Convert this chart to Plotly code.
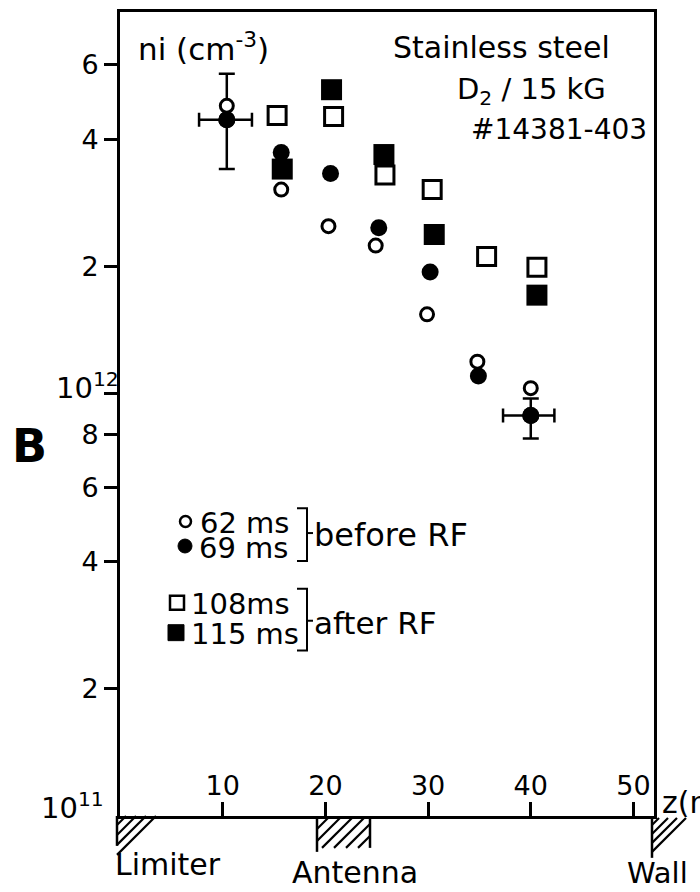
import plotly.graph_objects as go

# ---- measured ion density profiles (z in mm, ni in cm^-3) ----
z_62 = [10.4, 15.7, 20.3, 24.9, 29.9, 34.8, 40.0]
ni_62 = [4.8e12, 3.04e12, 2.49e12, 2.24e12, 1.54e12, 1.19e12, 1.03e12]

z_69 = [10.4, 15.7, 20.5, 25.2, 30.2, 34.9, 40.0]
ni_69 = [4.45e12, 3.72e12, 3.32e12, 2.47e12, 1.94e12, 1.10e12, 8.87e11]

z_108 = [15.3, 20.8, 25.8, 30.4, 35.7, 40.6]
ni_108 = [4.55e12, 4.53e12, 3.29e12, 3.04e12, 2.11e12, 1.99e12]

z_115 = [15.8, 20.6, 25.7, 30.6, 40.6]
ni_115 = [3.40e12, 5.24e12, 3.68e12, 2.38e12, 1.71e12]

# error bars on two of the 69 ms points
err_idx = [0, 6]
err_y_plus = [1.27e12, 0.86e11]
err_y_minus = [1.05e12, 1.04e11]
err_z_plus = [2.45, 2.3]
err_z_minus = [2.7, 2.7]

x_ticks = [10, 20, 30, 40, 50]
y_ticks = [1e11, 2e11, 4e11, 6e11, 8e11, 1e12, 2e12, 4e12, 6e12]
y_ticktext = ["", "2", "4", "6", "8", "", "2", "4", "6"]

Z_MAX = 52
LOG_RANGE = [11, 12.9033]

FONT = "DejaVu Sans"
INK = "black"

# plot box in pixels (for placing decorations in paper coordinates)
L, R, T, B = 120, 654, 9, 816


def px(X):
    return (X - L) / (R - L)


def py(Y):
    return (B - Y) / (B - T)


fig = go.Figure()

# error bars (drawn first, beneath the markers)
fig.add_trace(go.Scatter(
    x=[z_69[i] for i in err_idx], y=[ni_69[i] for i in err_idx],
    mode="markers", marker=dict(size=17, color=INK),
    error_y=dict(type="data", symmetric=False, array=err_y_plus,
                 arrayminus=err_y_minus, thickness=2.5, width=8, color=INK),
    error_x=dict(type="data", symmetric=False, array=err_z_plus,
                 arrayminus=err_z_minus, thickness=2.5, width=7, color=INK),
    showlegend=False, hoverinfo="skip"))

fig.add_trace(go.Scatter(
    x=z_115, y=ni_115, mode="markers", name="115 ms",
    marker=dict(symbol="square", size=21, color=INK, line=dict(width=0))))
fig.add_trace(go.Scatter(
    x=z_69, y=ni_69, mode="markers", name="69 ms",
    marker=dict(symbol="circle", size=17, color=INK, line=dict(width=0))))
fig.add_trace(go.Scatter(
    x=z_108, y=ni_108, mode="markers", name="108 ms",
    marker=dict(symbol="square", size=18, color="white",
                line=dict(width=3, color=INK))))
fig.add_trace(go.Scatter(
    x=z_62, y=ni_62, mode="markers", name="62 ms",
    marker=dict(symbol="circle", size=13, color="white",
                line=dict(width=3, color=INK))))

shapes = []
annotations = []


def text(s, X, Y, size, xanchor="left", bold=False):
    annotations.append(dict(
        text=f"<b>{s}</b>" if bold else s, x=px(X), y=py(Y),
        xref="paper", yref="paper", xanchor=xanchor, yanchor="middle",
        showarrow=False, font=dict(family=FONT, size=size, color=INK)))


def line_path(points, width=2.5):
    d = "M " + " L ".join(f"{px(a):.5f},{py(b):.5f}" for a, b in points)
    shapes.append(dict(type="path", path=d, xref="paper", yref="paper",
                       line=dict(color=INK, width=width)))


def hatch(poly, cs, width=2.2):
    # "/" hatch lines X + Y = c clipped to a convex polygon
    for c in cs:
        pts = []
        n = len(poly)
        for i in range(n):
            (x1, y1), (x2, y2) = poly[i], poly[(i + 1) % n]
            f1, f2 = x1 + y1 - c, x2 + y2 - c
            if f1 == f2:
                continue
            t = f1 / (f1 - f2)
            if 0 <= t <= 1:
                pts.append((x1 + t * (x2 - x1), y1 + t * (y2 - y1)))
        if len(pts) >= 2:
            pts.sort()
            line_path([pts[0], pts[-1]], width)


# limiter
line_path([(117, 816), (117, 846)])
hatch([(117, 816), (157, 816), (117, 856)], [972, 962, 952, 942])
# antenna
line_path([(317, 816), (317, 852)])
line_path([(370, 816), (370, 848)])
hatch([(317, 818), (370, 818), (370, 848), (317, 848)],
      [1146, 1158, 1170, 1182, 1194, 1206])
# wall
line_path([(652, 816), (652, 858)])
hatch([(652, 818), (687, 818), (652, 856)], [1504, 1495, 1486, 1477])

# legend glyphs
shapes.append(dict(type="circle", xref="paper", yref="paper",
                   x0=px(180), x1=px(191), y0=py(526), y1=py(515),
                   fillcolor="white", line=dict(color=INK, width=2.5)))
shapes.append(dict(type="circle", xref="paper", yref="paper",
                   x0=px(178), x1=px(192), y0=py(552), y1=py(538),
                   fillcolor=INK, line=dict(color=INK, width=1)))
shapes.append(dict(type="rect", xref="paper", yref="paper",
                   x0=px(170), x1=px(184), y0=py(609), y1=py(595),
                   fillcolor="white", line=dict(color=INK, width=2.5)))
shapes.append(dict(type="rect", xref="paper", yref="paper",
                   x0=px(168), x1=px(184), y0=py(640), y1=py(624),
                   fillcolor=INK, line=dict(color=INK, width=1)))
# brackets
line_path([(297, 507), (307, 507), (307, 560), (297, 560)], 2)
line_path([(307, 532), (313, 532)], 2)
line_path([(297, 588), (307, 588), (307, 650), (297, 650)], 2)
line_path([(307, 620), (313, 620)], 2)

text("62 ms", 198, 522, 29)
text("69 ms", 197, 547, 29)
text("108ms", 189, 603, 29)
text("115 ms", 189, 633, 29)
text("before RF", 312, 534, 32)
text("after RF", 312, 622, 31)

# titles and labels
text("ni (cm<sup>-3</sup>)", 136, 44, 31)
text("Stainless steel", 391, 45, 30)
text("D<sub>2</sub> / 15 kG", 455, 88, 29)
text("#14381-403", 469, 127, 28)
text("B", 10, 445, 46, bold=True)
text("10<sup>12</sup>", 121, 384, 29, xanchor="right")
text("10<sup>11</sup>", 106, 806, 29, xanchor="right")
text("z(mm)", 660, 802, 30)
text("Limiter", 113, 865, 30)
text("Antenna", 290, 873, 30)
text("Wall", 625, 873, 29)

fig.update_layout(
    width=700, height=892, autosize=False,
    margin=dict(l=L, r=700 - R, t=T, b=892 - B, pad=0),
    paper_bgcolor="white", plot_bgcolor="white",
    showlegend=False,
    shapes=shapes, annotations=annotations,
    xaxis=dict(range=[0, Z_MAX], tickvals=x_ticks, ticks="inside",
               ticklen=14, tickwidth=2.5, tickcolor=INK,
               ticklabelposition="inside", ticklabelstandoff=4,
               tickfont=dict(family=FONT, size=27, color=INK),
               showline=True, linewidth=3, linecolor=INK, mirror=True,
               showgrid=False, zeroline=False),
    yaxis=dict(type="log", range=LOG_RANGE, tickvals=y_ticks,
               ticktext=y_ticktext, ticks="outside", ticklen=13,
               tickwidth=2.5, tickcolor=INK, ticklabelstandoff=0,
               tickfont=dict(family=FONT, size=27, color=INK),
               showline=True, linewidth=3, linecolor=INK, mirror=True,
               showgrid=False, zeroline=False),
)

fig.write_html("out.html")
